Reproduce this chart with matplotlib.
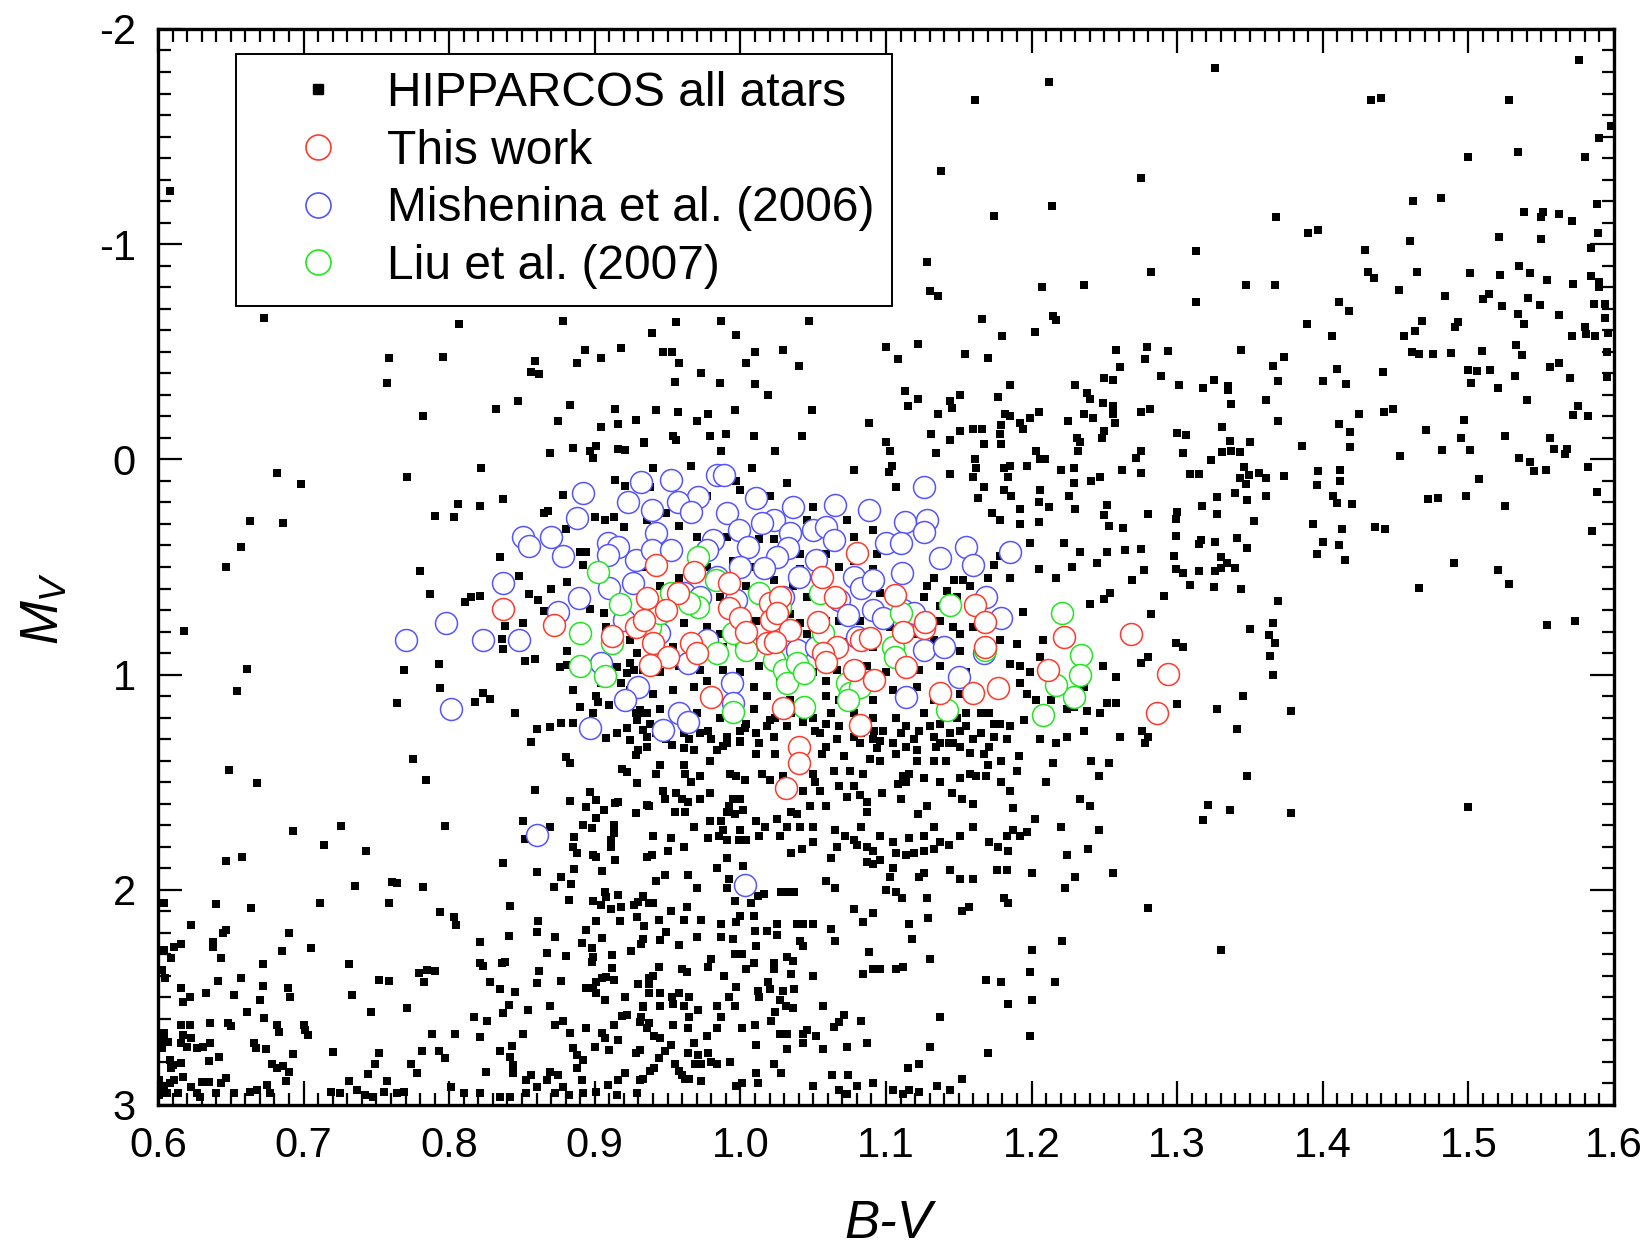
import matplotlib
matplotlib.use('Agg')
import matplotlib.pyplot as plt
from matplotlib.lines import Line2D
from matplotlib.ticker import MultipleLocator, FormatStrFormatter

plt.rcParams['font.family'] = ['Liberation Sans', 'DejaVu Sans']
plt.rcParams['axes.unicode_minus'] = False
plt.rcParams['mathtext.fontset'] = 'custom'
plt.rcParams['mathtext.it'] = 'Liberation Sans:italic'
plt.rcParams['mathtext.rm'] = 'Liberation Sans'

# ---------------- data: (B-V, M_V) ----------------
hip_top_left = [(0.608,-1.247),(0.673,-0.659),(0.807,-0.629),(0.759,-0.473),(0.757,-0.357),(0.796,-0.477),(0.859,-0.457),(0.856,-0.405),(0.862,-0.395),(0.878,-0.643),(0.888,-0.450),(0.893,-0.508),(0.904,-0.473),(0.918,-0.516),
 (1.212,-1.755),(1.161,-1.668),(1.138,-1.342),(1.174,-1.133),(1.214,-1.179),(1.128,-0.916),(1.130,-0.784),(1.136,-0.759),(1.207,-0.800),(1.236,-0.810),(1.166,-0.652),(1.215,-0.666),(1.217,-0.648),(1.202,-0.594),(1.180,-0.575),(1.100,-0.524),(1.122,-0.535),(1.108,-0.465),(1.154,-0.488),(1.170,-0.470),(1.258,-0.508),(1.261,-0.431),(1.250,-0.377),(1.256,-0.369),(1.230,-0.346),(1.185,-0.346),(0.939,-0.586),(0.956,-0.640),(0.987,-0.643),(0.997,-0.578),(1.047,-0.643),(0.947,-0.498),(0.953,-0.501),(0.958,-0.446),(0.973,-0.403),(0.955,-0.361),(0.986,-0.357),(1.004,-0.446),(1.010,-0.498),(1.010,-0.349),(1.029,-0.508),(1.040,-0.434)]

hip_top_right = [(1.326,-1.817),(1.433,-1.670),(1.440,-1.681),(1.528,-1.668),(1.576,-1.856),(1.590,-1.492),(1.598,-1.55),(1.500,-1.404),(1.534,-1.428),(1.580,-1.404),(1.275,-1.306),(1.462,-1.201),(1.481,-1.216),(1.538,-1.148),(1.551,-1.148),(1.550,-1.128),(1.562,-1.140),(1.571,-1.108),(1.588,-1.185),(1.368,-1.125),(1.390,-1.050),(1.397,-1.068),(1.460,-1.016),(1.521,-1.035),(1.550,-1.024),(1.589,-1.050),(1.313,-0.967),(1.429,-0.972),(1.584,-0.981),(1.282,-0.869),(1.431,-0.869),(1.435,-0.844),(1.465,-0.872),(1.501,-0.868),(1.522,-0.857),(1.535,-0.899),(1.542,-0.865),(1.554,-0.834),(1.572,-0.814),(1.584,-0.854),(1.590,-0.826),(1.590,-0.803),(1.347,-0.810),(1.367,-0.810),(1.452,-0.787),(1.313,-0.731),(1.411,-0.731),(1.418,-0.690),(1.484,-0.761),(1.510,-0.744),(1.514,-0.769),(1.523,-0.714),(1.541,-0.748),(1.549,-0.716),(1.586,-0.721),(1.594,-0.721),(1.534,-0.674),(1.538,-0.629),(1.562,-0.669),(1.594,-0.659),(1.389,-0.629),(1.468,-0.642),(1.463,-0.597),(1.456,-0.575),(1.493,-0.640),(1.491,-0.614),(1.580,-0.617),(1.581,-0.583),(1.587,-0.575),(1.571,-0.575),(1.596,-0.586),(1.406,-0.573),(1.279,-0.524),(1.278,-0.467),(1.294,-0.504),(1.344,-0.507),(1.461,-0.497),(1.466,-0.488),(1.476,-0.490),(1.488,-0.496),(1.509,-0.504),(1.533,-0.532),(1.537,-0.487),(1.595,-0.497),(1.366,-0.434),(1.373,-0.477),(1.410,-0.422),(1.441,-0.405),(1.500,-0.414),(1.506,-0.411),(1.515,-0.414),(1.532,-0.389),(1.556,-0.428),(1.562,-0.448),(1.570,-0.380),(1.595,-0.384),(1.289,-0.389),(1.301,-0.346),(1.325,-0.369),(1.318,-0.333),(1.335,-0.343),(1.369,-0.364),(1.400,-0.366),(1.416,-0.349),(1.502,-0.353),(1.520,-0.333)]

hip_mid_right = [(1.335,-0.323),(1.275,-0.222),(1.281,-0.234),(1.361,-0.276),(1.337,-0.256),(1.540,-0.276),(1.575,-0.250),(1.572,-0.206),(1.582,-0.202),(1.369,-0.178),(1.411,-0.163),(1.419,-0.126),(1.425,-0.209),(1.442,-0.219),(1.448,-0.233),(1.497,-0.183),(1.471,-0.135),(1.300,-0.121),(1.306,-0.113),(1.331,-0.151),(1.336,-0.086),(1.350,-0.079),(1.495,-0.098),(1.525,-0.109),(1.556,-0.101),(1.559,-0.050),(1.568,-0.050),(1.566,-0.025),(1.386,-0.064),(1.419,-0.058),(1.453,-0.016),(1.482,-0.042),(1.501,-0.045),(1.275,-0.041),(1.272,-0.008),(1.304,-0.031),(1.323,0.001),(1.331,-0.036),(1.337,-0.039),(1.343,-0.033),(1.535,-0.007),(1.542,0.014),(1.545,0.052),(1.553,0.049),(1.582,0.037),(1.346,0.037),(1.275,0.065),(1.309,0.069),(1.315,0.069),(1.343,0.088),(1.349,0.072),(1.356,0.065),(1.361,0.085),(1.373,0.077),(1.397,0.052),(1.412,0.049),(1.412,0.099),(1.396,0.119),(1.507,0.091),(1.347,0.116),(1.340,0.158),(1.348,0.189),(1.361,0.168),(1.327,0.176),(1.407,0.168),(1.410,0.203),(1.420,0.209),(1.472,0.182),(1.479,0.179),(1.498,0.170),(1.525,0.215),(1.588,0.150),(1.317,0.215),(1.280,0.254),(1.300,0.243),(1.299,0.277),(1.327,0.254),(1.353,0.285),(1.393,0.300),(1.413,0.325),(1.436,0.313),(1.443,0.325),(1.585,0.334),(1.299,0.357),(1.316,0.374),(1.315,0.393),(1.326,0.382),(1.341,0.367),(1.348,0.410),(1.400,0.385),(1.411,0.398),(1.396,0.438),(1.415,0.469),(1.275,0.416),(1.298,0.449),(1.330,0.453),(1.334,0.480),(1.330,0.506),(1.277,0.512),(1.299,0.511),(1.304,0.526),(1.315,0.519),(1.326,0.520),(1.340,0.506),(1.269,0.560),(1.490,0.480),(1.520,0.512),(1.528,0.579),(1.466,0.598),(1.309,0.585),(1.325,0.594),(1.344,0.602),(1.291,0.633),(1.369,0.656),(1.282,0.720),(1.366,0.759),(1.350,0.790),(1.363,0.818),(1.367,0.852),(1.299,0.853),(1.304,0.870),(1.554,0.770),(1.573,0.751),(1.280,0.917),(1.275,0.948),(1.364,0.912),(1.366,1.000),(1.345,1.099),(1.300,1.137),(1.327,1.158),(1.378,1.169),(1.276,1.262),(1.280,1.288),(1.278,1.316),(1.341,1.253),
 (1.348,1.471),(1.321,1.606),(1.318,1.677),(1.336,1.628),(1.378,1.645),(1.500,1.614),(1.280,2.086),(1.330,2.281)]

hip_left_mid = [(0.782,-0.203),(0.832,-0.234),(0.847,-0.273),(0.883,-0.253),(0.875,-0.177),(0.904,-0.151),(0.914,-0.233),(0.916,-0.165),(0.928,-0.185),(0.934,-0.078),(0.869,-0.030),(0.885,-0.051),(0.897,-0.038),(0.901,-0.062),(0.899,-0.008),(0.916,-0.048),(0.921,-0.044),(0.822,0.040),(0.771,0.083),(0.682,0.062),(0.698,0.113),(0.663,0.285),(0.686,0.294),(0.657,0.407),(0.647,0.498),(0.837,0.184),(0.878,0.165),(0.806,0.209),(0.821,0.217),(0.790,0.265),(0.803,0.268),(0.865,0.251),(0.868,0.238),(0.900,0.266),(0.907,0.282),(0.913,0.266),(0.914,0.096),(0.921,0.124),(0.880,0.323),(0.920,0.313),(0.835,0.452),(0.890,0.432),(0.894,0.432),(0.892,0.491),(0.780,0.519),(0.848,0.542),(0.881,0.568),(0.870,0.601),(0.787,0.627),(0.811,0.661),(0.815,0.638),(0.821,0.635),(0.855,0.627),(0.861,0.653),(0.865,0.704),(0.897,0.697),(0.838,0.773),(0.851,0.762),(0.836,0.836),(0.837,0.883),(0.892,0.824),(0.881,0.889),(0.618,0.796),(0.661,0.974),(0.654,1.078),(0.769,0.977),(0.793,0.951),(0.794,1.064),(0.764,1.133),(0.818,1.126),(0.823,1.087),(0.828,1.115),(0.845,1.177),(0.852,0.935),(0.859,0.929),(0.876,0.966),(0.881,0.955),(0.885,1.071),(0.901,1.099),(0.902,1.126),(0.910,1.141),(0.924,1.071),(0.860,1.254),(0.869,1.242),(0.877,1.223),(0.885,1.226),(0.908,1.296),(0.856,1.315),(0.922,1.250),(0.929,1.211),(0.933,1.257),(0.931,1.164),(0.924,0.948),(0.922,0.994),(0.929,0.901),(0.924,0.839),(0.918,1.041),
 (0.906,0.715),(0.908,0.777),(0.927,0.979),(0.915,0.963),(0.904,1.041),(0.928,1.180),(0.924,1.304),(0.915,1.273),(0.899,1.180),(0.890,1.149)]

hip_core = [(1.019,-0.30),(0.942,-0.23),(0.957,-0.22),(0.978,-0.21),(0.996,-0.23),(1.049,-0.23),(0.970,-0.18),(0.954,-0.11),(0.956,-0.09),(0.979,-0.11),(0.990,-0.12),(1.009,-0.11),(1.042,-0.11),(0.934,-0.08),(0.987,-0.04),(1.024,-0.04),(0.940,0.04),(0.966,0.03),(1.008,0.04),(0.997,0.10),(1.088,-0.17),(1.078,0.05),(1.100,-0.08),(1.103,-0.04),(1.104,0.03),(1.102,0.06),(1.107,0.13),(1.113,-0.32),(1.122,-0.28),(1.115,-0.25),(1.151,-0.30),(1.144,-0.27),(1.145,-0.24),(1.136,-0.21),(1.131,-0.12),(1.144,-0.09),(1.151,-0.13),(1.134,-0.03),(1.144,0.07),(1.160,-0.14),(1.166,-0.14),(1.167,-0.07),(1.161,0.00),(1.162,0.04),(1.160,0.08),(1.167,0.13),(1.163,0.18),(1.177,-0.29),(1.182,-0.21),(1.179,-0.16),(1.178,-0.12),(1.179,-0.07),(1.185,-0.20),(1.192,-0.17),(1.194,-0.14),(1.199,-0.19),(1.205,-0.22),(1.203,-0.04),(1.206,0.00),(1.197,0.03),(1.209,0.00),(1.181,0.04),(1.185,0.03),(1.184,0.08),(1.181,0.14),(1.186,0.17),(1.192,0.23),(1.178,0.28),(1.173,0.25),(1.192,0.30),(1.205,0.20),(1.212,0.22),(1.206,0.14),(1.205,0.29),(1.225,-0.18),(1.238,-0.31),(1.240,-0.28),(1.249,-0.26),(1.256,-0.25),(1.256,-0.21),(1.257,-0.17),(1.250,-0.13),(1.248,-0.10),(1.236,-0.21),(1.242,-0.19),(1.231,-0.10),(1.233,-0.08),(1.232,-0.04),(1.229,0.04),(1.220,0.05),(1.229,0.11),(1.226,0.17),(1.230,0.23),(1.241,0.10),(1.247,0.08),(1.252,0.21),(1.250,0.26),(1.253,0.31),(1.263,0.32),(1.262,0.05),(1.222,0.39),(1.199,0.39),(1.233,0.43),(1.228,0.50),(1.217,0.55),(1.205,0.51),(1.245,0.48),(1.252,0.43),(1.264,0.42),(1.250,0.65),(1.240,0.67),(1.254,0.62),(1.194,0.71),(1.185,0.55),(1.178,0.45),(1.174,0.49),(1.170,0.55),(1.147,0.56),(1.153,0.56),(1.142,0.61),(1.137,0.68),
 (1.178,0.84),(1.190,0.86),(1.185,0.95),(1.192,0.96),(1.199,0.99),(1.206,0.92),(1.208,0.84),(1.192,1.04),(1.197,1.09),(1.203,1.12),(1.213,1.12),(1.224,1.16),(1.229,1.15),(1.238,1.17),(1.247,1.18),(1.252,1.13),(1.258,1.13),(1.261,1.29),(1.236,1.26),(1.224,1.29),(1.217,1.32),(1.206,1.30),(1.195,1.21),(1.185,1.24),(1.178,1.23),(1.171,1.18),(1.165,1.18),(1.155,1.18),(1.151,1.26),(1.160,1.30),(1.174,1.29),(1.183,1.30),(1.249,0.96),(1.258,1.01),(1.236,1.06),(1.233,0.90),
 (0.933,0.50),(0.958,0.55),(0.977,0.50),(1.007,0.50),(1.023,0.56),(1.041,0.51),(1.068,0.50),(1.091,0.51),(1.110,0.56),(1.128,0.59),(1.133,0.55),(1.149,0.64),(1.158,0.59),(1.126,0.64),(1.096,0.62),(1.046,0.64),(1.036,0.59),(1.004,0.59),(0.986,0.64),(0.945,0.59),(0.942,0.75),(0.961,0.76),(0.977,0.78),(0.986,0.81),(1.011,0.75),(1.034,0.72),(1.041,0.76),(1.046,0.81),(1.059,0.75),(1.068,0.75),(1.082,0.75),(1.096,0.72),(1.103,0.78),(1.119,0.81),(1.137,0.75),(1.146,0.78),(1.151,0.81),(1.160,0.78),(0.954,0.87),(0.988,0.87),(1.013,0.87),(1.046,0.87),(1.071,0.85),(1.091,0.87),(1.133,0.84),(1.151,0.89),(0.933,0.98),(0.945,0.99),(0.958,0.96),(0.972,0.98),(0.988,0.98),(1.000,0.99),(1.013,0.96),(1.027,1.03),(1.050,0.99),(1.059,1.03),(1.066,0.98),(1.087,0.96),(1.100,0.99),(1.123,0.98),(1.137,0.96),(1.155,0.99),(0.940,1.09),(0.954,1.07),(0.968,1.06),(0.977,1.03),(1.009,1.06),(1.018,1.10),(1.034,1.12),(1.059,1.10),(1.068,1.12),(1.091,1.12),(1.105,1.07),(1.121,1.06),(1.133,1.12),(1.151,1.09),(0.936,1.18),(0.945,1.16),(0.970,1.18),(0.986,1.20),(1.004,1.23),(1.009,1.16),(1.020,1.21),(1.032,1.24),(1.050,1.20),(1.062,1.18),(1.068,1.24),(1.091,1.20),(1.098,1.26),(1.107,1.20),(1.114,1.24),(1.126,1.18),(1.137,1.23),(1.149,1.20),(0.936,1.29),(0.949,1.30),(0.972,1.27),(0.991,1.29),(1.000,1.26),(1.013,1.32),(1.023,1.29),(1.055,1.27),(1.066,1.30),(1.078,1.29),(1.091,1.30),(1.105,1.32),(1.119,1.30),(1.133,1.29),(1.146,1.32),
 (0.936,0.28),(0.958,0.31),(0.970,0.36),(0.991,0.36),(0.995,0.47),(1.013,0.37),(1.023,0.37),(1.041,0.44),(1.046,0.28),(1.050,0.22),(1.073,0.28),(1.078,0.36),(1.091,0.33),(1.094,0.44),(1.059,0.44),(1.078,0.47),(1.000,0.14),(1.020,0.17),(1.032,0.11),(0.977,0.17),(0.949,0.25),(0.938,0.13),
 (0.934,1.18),(0.938,1.23),(0.942,1.27),(0.961,1.27),(0.965,1.30),(0.978,1.26),(0.980,1.30),(0.988,1.33),(1.000,1.31),(1.003,1.25),(1.011,1.27),(1.018,1.24),(1.024,1.20),(1.035,1.18),(1.043,1.22),(1.051,1.26),(1.059,1.23),(1.078,1.18),(1.083,1.27),(1.092,1.26),(1.096,1.31),(1.110,1.27),(1.123,1.26),(1.130,1.24),(1.137,1.32),(1.144,1.27),(1.155,1.24),(1.165,1.27),(1.174,1.23)]

hip_low_left = [(0.775,1.392),(0.784,1.488),(0.649,1.443),(0.668,1.505),(0.859,1.535),(0.880,1.385),(0.883,1.412),(0.928,1.374),(0.930,1.350),(0.919,1.440),(0.922,1.451),(0.929,1.502),(0.936,1.606),(0.897,1.544),(0.901,1.583),(0.894,1.614),(0.906,1.629),(0.914,1.598),(0.916,1.590),(0.883,1.587),(0.901,1.668),(0.898,1.714),(0.892,1.699),(0.913,1.699),(0.913,1.738),(0.928,1.645),(0.851,1.679),(0.852,1.765),(0.869,1.707),(0.886,1.753),(0.885,1.800),(0.888,1.831),(0.911,1.769),(0.911,1.800),(0.899,1.838),(0.901,1.849),(0.914,1.861),(0.936,1.846),(0.837,1.877),(0.860,1.916),(0.886,1.905),(0.905,1.913),(0.877,1.942),(0.872,1.985),(0.884,1.975),(0.882,2.047),(0.899,2.050),(0.904,2.071),(0.907,2.009),(0.908,2.032),(0.916,2.024),(0.911,2.091),(0.918,2.078),(0.927,2.071),(0.930,2.055),(0.933,2.032),(0.937,2.063),(0.842,2.075),(0.917,2.145),(0.901,2.145),(0.929,2.125),(0.861,2.145),(0.860,2.198),(0.841,2.213),(0.873,2.221),(0.894,2.187),(0.905,2.225),(0.925,2.284),(0.932,2.253),(0.891,2.249),(0.898,2.272),(0.899,2.311),(0.898,2.334),(0.912,2.303),(0.912,2.362),(0.867,2.295),(0.880,2.308),(0.862,2.376),(0.860,2.432),(0.877,2.422),(0.901,2.427),(0.905,2.412),(0.908,2.404),(0.913,2.419),(0.899,2.458),(0.894,2.458),(0.901,2.481),(0.907,2.512),(0.921,2.500),(0.930,2.438),(0.937,2.412),(0.937,2.481),(0.919,2.586),(0.922,2.582),(0.932,2.590),(0.931,2.613),(0.933,2.543),(0.937,2.621),(0.913,2.628),(0.905,2.667),(0.907,2.690),(0.894,2.644),(0.883,2.664),(0.900,2.729),(0.916,2.698),(0.910,2.744),(0.928,2.760),(0.931,2.744),(0.885,2.737),(0.888,2.768),(0.892,2.791),(0.888,2.830),(0.891,2.884),(0.869,2.848),(0.875,2.861),(0.867,2.884),(0.856,2.861),(0.853,2.884),(0.860,2.915),(0.878,2.915),(0.909,2.907),(0.916,2.884),(0.921,2.853),(0.931,2.884),(0.901,2.938),(0.915,2.954),(0.929,2.946),(0.892,2.946),(0.882,2.954),(0.873,2.946),(0.853,2.946),(0.844,2.853),(0.844,2.814),(0.842,2.775),(0.843,2.726),(0.835,2.749),(0.851,2.670),(0.825,2.848),(0.821,2.683),(0.817,2.590),(0.826,2.610),(0.837,2.571),(0.841,2.535),(0.845,2.473),(0.835,2.463),(0.828,2.427),(0.821,2.342),(0.823,2.354),(0.836,2.339),(0.838,2.334),(0.821,2.244),(0.854,2.559),(0.869,2.538),(0.873,2.628),(0.878,2.610),(0.794,2.105),(0.803,2.125),(0.805,2.164),(0.782,1.985),(0.761,1.962),(0.764,1.970),(0.759,2.063),(0.797,1.702),(0.743,1.818),(0.735,1.981),(0.726,1.704),(0.714,1.792),(0.711,2.060),(0.693,1.725),(0.647,1.865),(0.658,1.849),(0.640,2.067),(0.664,2.083),(0.604,2.063),(0.623,2.164),(0.647,2.187),(0.645,2.202),(0.638,2.244),(0.638,2.264),(0.643,2.315),(0.690,2.199),(0.685,2.283),(0.705,2.272),(0.672,2.346),(0.731,2.345),(0.779,2.385),(0.785,2.373),(0.790,2.378),(0.783,2.430),(0.752,2.419),(0.759,2.422),(0.733,2.489),(0.746,2.566),(0.771,2.548),(0.788,2.670),(0.804,2.672),(0.781,2.748),(0.793,2.748),(0.797,2.783),(0.752,2.757),(0.749,2.811),(0.744,2.856),(0.774,2.810),(0.778,2.850),(0.720,2.755),(0.731,2.887),(0.757,2.887),(0.693,2.765),(0.682,2.827),(0.686,2.819),(0.678,2.811),(0.690,2.848),(0.688,2.887),(0.675,2.907),(0.700,2.628),(0.703,2.675),(0.701,2.651),(0.682,2.628),(0.683,2.659),(0.673,2.597),(0.670,2.512),(0.672,2.445),(0.661,2.566),(0.652,2.489),(0.657,2.411),(0.641,2.424),(0.633,2.478),(0.636,2.617),(0.648,2.621),(0.650,2.633),(0.666,2.714),(0.667,2.737),(0.674,2.740),(0.689,2.458),(0.691,2.497),(0.642,2.775),(0.635,2.794),(0.647,2.876),(0.643,2.899),(0.617,2.868),(0.630,2.892),(0.635,2.892),(0.623,2.915),(0.627,2.946),(0.616,2.628),(0.622,2.628),(0.617,2.675),(0.623,2.690),(0.616,2.714),(0.620,2.729),(0.627,2.737),(0.631,2.729),(0.636,2.714),(0.604,2.698),(0.607,2.706),(0.603,2.737),(0.608,2.791),(0.616,2.803),(0.610,2.814),(0.609,2.830),(0.601,2.884),(0.608,2.899),(0.604,2.923),(0.611,2.884),(0.601,2.954),(0.614,2.946),(0.606,2.946),(0.616,2.458),(0.622,2.497),(0.617,2.520),(0.605,2.411),(0.603,2.373),(0.604,2.280),(0.611,2.264),(0.616,2.252),(0.609,2.318),(0.604,2.667),(0.719,2.938),(0.725,2.946),(0.737,2.930),(0.755,2.938),(0.764,2.946),(0.769,2.938),(0.742,2.954),(0.748,2.962),(0.663,2.938),(0.668,2.930),(0.677,2.946),(0.652,2.946),(0.640,2.946),(0.629,2.962),(0.801,2.915),(0.810,2.946),(0.821,2.946),(0.835,2.962),(0.842,2.962)]

hip_low_mid = [(0.942,1.46),(0.945,1.42),(0.961,1.42),(0.962,1.46),(0.972,1.47),(0.979,1.40),(0.984,1.35),(0.966,1.50),(0.993,1.46),(0.997,1.47),(1.003,1.49),(1.011,1.37),(1.015,1.46),(1.020,1.49),(1.024,1.37),(1.029,1.47),(1.043,1.54),(1.050,1.46),(1.055,1.54),(1.051,1.50),(1.056,1.37),(1.064,1.45),(1.071,1.38),(1.068,1.52),(1.075,1.45),(1.078,1.52),(1.082,1.56),(1.084,1.46),(1.087,1.59),(1.089,1.39),(1.087,1.64),(1.073,1.57),(1.096,1.40),(1.097,1.55),(1.107,1.37),(1.108,1.51),(1.112,1.47),(1.114,1.50),(1.116,1.46),(1.110,1.58),(1.121,1.40),(1.126,1.48),(1.133,1.40),(1.137,1.50),(1.141,1.40),(1.145,1.55),(1.151,1.48),(1.152,1.58),(1.158,1.46),(1.160,1.60),(1.162,1.47),(1.169,1.47),(1.170,1.42),(1.167,1.37),(1.179,1.40),(1.179,1.50),(1.185,1.54),(1.190,1.45),(1.191,1.38),(1.215,1.41),(1.210,1.50),(1.233,1.58),(1.240,1.61),(1.241,1.40),(1.253,1.41),(1.246,1.47),
 (0.936,1.335),(0.953,1.327),(0.961,1.343),(0.968,1.350),(0.991,1.319),(1.000,1.312),(1.059,1.335),(1.082,1.319),(1.094,1.343),(1.114,1.335),(1.134,1.335),(1.143,1.319),(1.151,1.335),(1.171,1.335),(1.158,1.366),(1.121,1.350),
 (0.937,1.61),(0.947,1.54),(0.948,1.58),(0.956,1.55),(0.960,1.58),(0.964,1.59),(0.972,1.58),(0.979,1.55),(0.992,1.61),(0.995,1.58),(1.000,1.58),(1.002,1.63),(0.991,1.64),(0.996,1.65),(0.955,1.64),(0.962,1.64),(0.940,1.75),(0.952,1.76),(0.950,1.82),(0.961,1.80),(0.968,1.71),(0.978,1.76),(0.979,1.68),(0.987,1.68),(0.988,1.72),(0.985,1.75),(0.991,1.77),(1.000,1.72),(0.999,1.77),(1.004,1.77),(1.011,1.68),(1.013,1.75),(1.017,1.71),(1.025,1.67),(1.027,1.75),(1.032,1.71),(1.035,1.64),(1.039,1.65),(1.041,1.71),(1.048,1.61),(1.050,1.71),(1.059,1.61),(1.050,1.78),(1.042,1.81),(1.035,1.83),(1.065,1.72),(1.066,1.80),(1.062,1.85),(1.072,1.75),(1.078,1.77),(1.083,1.71),(1.080,1.79),(1.087,1.80),(1.091,1.82),(1.087,1.87),(1.091,1.88),(1.096,1.86),(1.096,1.75),(1.105,1.78),(1.107,1.83),(1.116,1.76),(1.126,1.75),(1.114,1.84),(1.119,1.83),(1.126,1.82),(1.133,1.81),(1.137,1.78),(1.143,1.79),(1.133,1.71),(1.128,1.61),(1.122,1.65),(1.151,1.75),(1.160,1.71),(1.171,1.78),(1.177,1.80),(1.183,1.75),(1.184,1.82),(1.187,1.72),(1.192,1.75),(1.197,1.73),(1.202,1.67),(1.187,1.62),(1.220,1.71),(1.246,1.72),(1.224,1.84),(1.239,1.81),
 (0.939,1.84),(0.991,1.85),(0.984,1.90),(1.002,1.89),(0.992,1.95),(0.991,1.99),(0.996,2.05),(0.948,1.93),(0.942,1.96),(0.964,1.93),(0.970,1.99),(0.933,2.03),(0.940,2.06),(0.944,2.14),(0.952,2.10),(0.963,2.08),(0.961,2.14),(0.973,2.14),(0.987,2.16),(0.987,2.22),(0.995,2.23),(0.997,2.15),(1.000,2.12),(1.007,2.06),(1.009,2.12),(1.012,2.03),(1.016,2.02),(1.010,2.19),(1.018,2.19),(1.025,2.16),(1.025,2.21),(1.039,2.16),(1.043,2.16),(1.050,2.16),(1.062,2.18),(1.065,2.24),(1.041,2.24),(1.043,2.26),(1.011,2.26),(1.028,2.01),(1.033,2.01),(1.037,2.01),(1.059,1.96),(1.065,1.99),(1.078,2.09),(1.091,2.11),(1.084,2.15),(1.100,2.00),(1.107,2.01),(1.111,2.04),(1.103,1.94),(1.105,1.90),(1.123,1.94),(1.126,1.92),(1.128,2.04),(1.129,2.13),(1.116,2.16),(1.118,2.23),(1.144,1.91),(1.151,1.95),(1.160,1.95),(1.152,2.10),(1.157,2.08),(1.176,1.91),(1.183,1.91),(1.181,2.04),(1.184,2.06),(1.200,1.92),(1.223,1.99),(1.230,1.94),(1.256,1.92),(1.221,2.24),(1.200,2.28),(1.199,2.38),(1.200,2.51),(1.184,2.53),(1.179,2.43),(1.169,2.42),(1.216,2.43),(1.199,2.68),(1.170,2.76),(1.130,2.32),(1.137,2.59),(1.130,2.73),(1.123,2.81),(1.115,2.83),(1.152,2.88),(1.088,2.29),(1.084,2.39),(1.091,2.37),(1.096,2.37),(1.107,2.37),(1.112,2.36),(1.083,2.61),(1.087,2.71),(1.073,2.73),(1.074,2.86),(1.063,2.86),(1.057,2.74),(1.057,2.54),(1.050,2.40),(1.035,2.39),(1.032,2.31),(1.036,2.33),(1.023,2.34),(1.023,2.37),(1.037,2.46),(1.029,2.47),(1.020,2.46),(1.012,2.47),(1.013,2.50),(1.027,2.51),(1.019,2.43),(1.009,2.34),(1.004,2.37),(0.996,2.30),(1.001,2.30),(0.980,2.32),(0.978,2.36),(0.989,2.40),(0.997,2.45),(0.992,2.50),(0.996,2.54),(0.984,2.54),(0.987,2.59),(0.963,2.38),(0.960,2.37),(0.944,2.36),(0.940,2.40),(0.937,2.44),(0.945,2.48),(0.953,2.50),(0.958,2.48),(0.965,2.50),(0.954,2.53),(0.961,2.54),(0.971,2.56),(0.965,2.59),(0.933,2.54),(0.936,2.64),(0.945,2.54),(0.954,2.63),(0.964,2.64),(0.984,2.64),(1.001,2.64),(1.010,2.63),(1.021,2.61),(1.024,2.57),(1.031,2.54),(1.036,2.55),(1.027,2.67),(1.032,2.67),(1.043,2.67),(1.046,2.65),(1.043,2.71),(1.052,2.68),(1.032,2.74),(1.011,2.72),(0.977,2.68),(0.945,2.69),(0.941,2.68),(0.952,2.72),(0.948,2.75),(0.944,2.78),(0.968,2.71),(0.964,2.76),(0.971,2.77),(0.978,2.76),(0.969,2.81),(0.973,2.81),(0.980,2.80),(0.984,2.81),(0.993,2.80),(0.955,2.81),(0.958,2.84),(0.960,2.86),(0.962,2.88),(0.965,2.88),(0.973,2.89),(0.941,2.83),(0.938,2.84),(0.933,2.88),(1.011,2.85),(1.012,2.90),(1.023,2.81),(1.028,2.85),(0.997,2.91),(1.001,2.90),(1.050,2.91),(1.068,2.93),(1.073,2.95),(1.080,2.91),(1.091,2.90),(1.105,2.93),(1.112,2.95),(1.116,2.93),(1.123,2.94),(1.135,2.91),(1.144,2.93),(0.933,2.23),(0.934,2.17),
 (0.945,2.233),(0.949,2.195),(0.958,2.257),(0.970,2.218),(1.064,2.636),(1.071,2.582),(1.068,2.613)]

this_work = [(0.837,0.697),(0.872,0.770),(0.912,0.821),(0.928,0.777),(0.942,0.491),(0.968,0.522),(0.957,0.622),(0.936,0.646),(0.949,0.700),(0.934,0.746),(0.992,0.576),(0.992,0.692),(1.000,0.739),(1.004,0.800),(1.020,0.669),(1.027,0.638),(1.021,0.746),(1.025,0.715),(1.034,0.793),(1.018,0.855),(1.024,0.847),(0.966,0.855),(0.970,0.901),(0.940,0.855),(0.950,0.917),(0.938,0.955),(1.080,0.436),(1.056,0.545),(1.065,0.638),(1.053,0.754),(1.106,0.630),(1.083,0.839),(1.089,0.832),(1.066,0.870),(1.057,0.901),(1.059,0.940),(1.078,0.979),(1.092,1.025),(1.112,0.800),(1.126,0.785),(1.127,0.754),(1.114,0.963),(1.161,0.677),(1.168,0.754),(1.168,0.870),(1.222,0.824),(1.268,0.811),(1.211,0.979),(1.137,1.087),(1.160,1.087),(1.177,1.064),(0.980,1.103),(1.029,1.157),(1.082,1.234),(1.040,1.335),(1.040,1.412),(1.031,1.529),(1.294,0.997),(1.286,1.177)]

mishenina_2006 = [(0.892,0.155),(0.932,0.103),(0.923,0.196),(0.939,0.235),(0.888,0.271),(0.851,0.359),(0.855,0.401),(0.870,0.359),(0.878,0.447),(0.909,0.390),(0.916,0.406),(0.909,0.444),(0.928,0.467),(0.910,0.599),(0.926,0.576),(0.837,0.576),(0.889,0.646),(0.875,0.708),(0.920,0.746),(0.798,0.762),(0.770,0.839),(0.823,0.839),(0.848,0.839),(0.904,0.948),(0.930,1.059),(0.921,1.118),(0.801,1.160),(0.897,1.250),
 (0.984,0.072),(0.989,0.072),(0.952,0.096),(0.971,0.173),(0.957,0.196),(0.966,0.243),(1.011,0.181),(0.991,0.251),(1.065,0.212),(1.088,0.235),(1.036,0.220),(1.023,0.282),(0.999,0.328),(1.015,0.297),(0.942,0.344),(0.981,0.374),(1.005,0.405),(1.034,0.344),(1.033,0.413),(1.050,0.328),(1.059,0.313),(1.064,0.374),(0.939,0.421),(0.952,0.421),(0.977,0.421),(1.025,0.452),(1.052,0.467),(1.126,0.127),(1.113,0.289),(1.128,0.282),(1.126,0.336),(1.100,0.390),(1.110,0.390),(1.155,0.405),(1.185,0.429),(1.137,0.460),(1.160,0.491),(1.016,0.506),(1.000,0.498),(0.984,0.545),(1.040,0.545),(1.078,0.545),(1.083,0.599),(1.091,0.560),(1.111,0.529),(0.961,0.622),(0.972,0.638),(0.997,0.653),(1.029,0.638),(1.068,0.653),(1.074,0.723),(1.091,0.700),(1.098,0.739),(1.112,0.700),(1.119,0.715),(1.169,0.638),(1.179,0.739),(0.936,0.746),(0.944,0.808),(0.964,0.948),(0.977,0.839),(1.004,0.855),(1.039,0.886),(1.052,0.870),(1.080,0.824),(1.126,0.886),(1.140,0.870),(1.150,1.010),(1.114,1.103),(1.167,0.901),(0.994,1.041),(0.995,1.134),(0.958,1.180),(0.964,1.219),(0.947,1.257),(0.860,1.745),(1.003,1.978)]

liu_2007 = [(0.902,0.522),(0.917,0.672),(0.890,0.808),(0.912,0.855),(0.890,0.958),(0.907,1.005),(0.971,0.452),(0.983,0.560),(0.952,0.622),(0.971,0.684),(0.965,0.669),(1.013,0.622),(1.027,0.684),(0.984,0.901),(0.995,0.808),(1.004,0.886),(1.023,0.932),(1.030,0.979),(1.032,1.041),(1.039,0.948),(1.044,0.994),(1.044,1.149),(0.995,1.172),(1.055,0.622),(1.057,0.808),(1.073,1.041),(1.075,1.087),(1.082,1.056),(1.074,1.118),(1.110,0.715),(1.105,0.870),(1.106,0.917),(1.144,0.677),(1.168,0.886),(1.142,1.165),(1.221,0.715),(1.234,0.909),(1.233,1.002),(1.229,1.103),(1.217,1.048),(1.208,1.188),(0.938,0.777),(0.945,0.715)]

x_ticks = [0.6, 0.7, 0.8, 0.9, 1.0, 1.1, 1.2, 1.3, 1.4, 1.5, 1.6]
y_ticks = [-2, -1, 0, 1, 2, 3]
legend_labels = ['HIPPARCOS all atars', 'This work', 'Mishenina et al. (2006)', 'Liu et al. (2007)']

RED = '#ff3a2a'
BLUE = '#5555ff'
GREEN = '#22e622'

# ---------------- figure ----------------
fig = plt.figure(figsize=(16.49, 12.49), dpi=100)
ax = fig.add_axes([0.0958, 0.1153, 0.8830, 0.8615])

hip = hip_top_left + hip_top_right + hip_mid_right + hip_left_mid + hip_core + hip_low_left + hip_low_mid
ax.scatter([p[0] for p in hip], [p[1] for p in hip], marker='s', s=30, c='k', linewidths=0, zorder=2)

def circles(data, col, z):
    ax.scatter([p[0] for p in data], [p[1] for p in data], marker='o', s=250,
               facecolors='white', edgecolors=col, linewidths=1.1, zorder=z)

circles(mishenina_2006, BLUE, 3)
circles(liu_2007, GREEN, 4)
circles(this_work, RED, 5)

ax.set_xlim(0.6, 1.6)
ax.set_ylim(3, -2)
ax.set_xticks(x_ticks)
ax.set_yticks(y_ticks)
ax.xaxis.set_minor_locator(MultipleLocator(0.01))
ax.yaxis.set_minor_locator(MultipleLocator(0.1))
ax.xaxis.set_major_formatter(FormatStrFormatter('%.1f'))
ax.yaxis.set_major_formatter(FormatStrFormatter('%d'))
ax.tick_params(which='both', direction='in', top=True, right=True, width=1.6, colors='k')
ax.tick_params(which='major', length=17, labelsize=30)
ax.tick_params(axis='x', which='major', pad=15)
ax.tick_params(axis='y', which='major', pad=16)
ax.tick_params(which='minor', length=9)
for sp in ax.spines.values():
    sp.set_linewidth(2.4)

fig.text(0.539, 0.020, 'B-V', ha='center', va='center', fontsize=38, style='italic')
fig.text(0.027, 0.513, r'$M_V$', ha='center', va='center', fontsize=38, rotation=90)

handles = [Line2D([], [], marker='s', ls='', color='k', markersize=7),
           Line2D([], [], marker='o', ls='', mfc='white', mec=RED, mew=1.2, markersize=18),
           Line2D([], [], marker='o', ls='', mfc='white', mec=BLUE, mew=1.2, markersize=18),
           Line2D([], [], marker='o', ls='', mfc='white', mec=GREEN, mew=1.2, markersize=18)]
leg = ax.legend(handles, legend_labels, loc='upper left', bbox_to_anchor=(0.0536, 0.977),
                borderaxespad=0, fontsize=34.5, frameon=True, fancybox=False, edgecolor='k',
                framealpha=1, borderpad=0.36, handlelength=2.7, handletextpad=0.1, labelspacing=0.265)
leg.get_frame().set_linewidth(1.4)
leg.set_zorder(10)

fig.savefig('out.png', dpi=100)
